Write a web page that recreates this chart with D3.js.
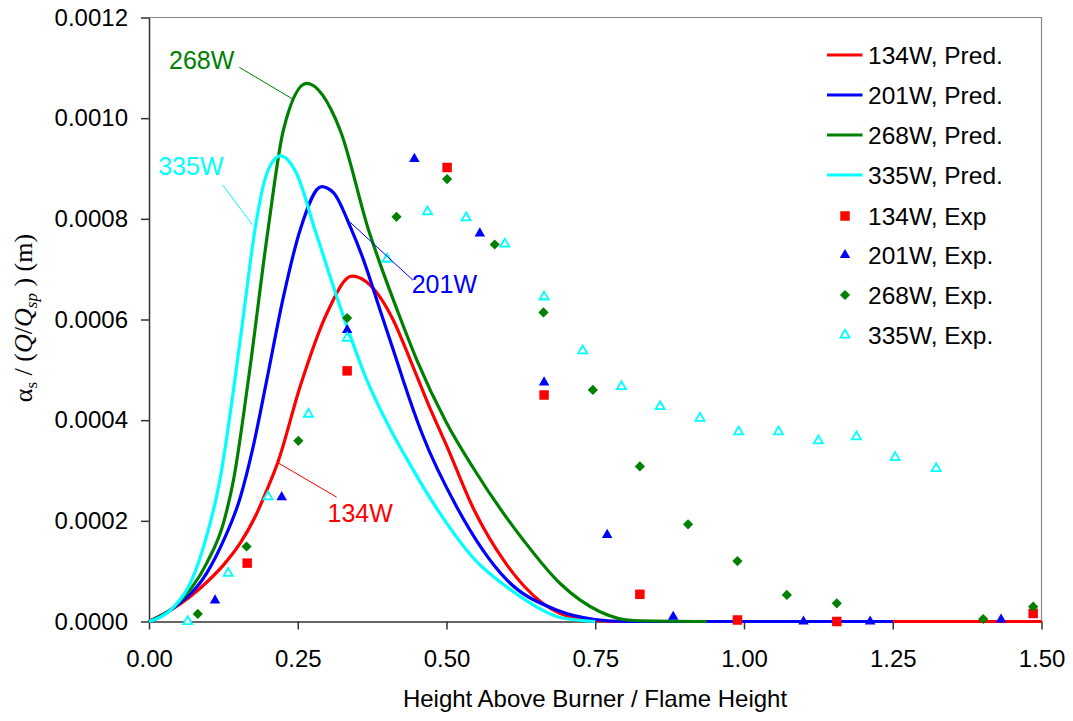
<!DOCTYPE html>
<html>
<head>
  <meta charset="utf-8">
  <script src="https://d3js.org/d3.v7.min.js"></script>
  <style>
    body { margin: 0; background: #fff; }
    svg text { font-family: "Liberation Sans", Arial, sans-serif; }
  </style>
</head>
<body>
<svg id="chart" width="1073" height="721"></svg>
<script>
  // predicted curves (x = height / flame height, y = alpha_s / (Q/Qsp))
  const x134 = [0, 0.041, 0.097, 0.125, 0.153, 0.18, 0.198, 0.217, 0.254, 0.30, 0.341, 0.365, 0.388, 0.41, 0.439, 0.47, 0.50, 0.545, 0.60, 0.629, 0.691, 0.75, 0.80, 1.0, 1.25, 1.5];
  const y134 = [0, 0.000026, 0.000078, 0.000112, 0.000155, 0.000212, 0.000261, 0.000318, 0.000467, 0.000615, 0.000686, 0.000675, 0.000645, 0.0006, 0.00052, 0.00043, 0.00035, 0.000225, 0.000115, 0.000072, 0.000016, 0.000002, 0, 0, 0, 0];

  const x201 = [0, 0.041, 0.097, 0.125, 0.153, 0.175, 0.198, 0.225, 0.254, 0.290, 0.31, 0.338, 0.36, 0.388, 0.416, 0.427, 0.46, 0.517, 0.601, 0.685, 0.75, 0.80, 1.0, 1.25];
  const y201 = [0, 0.000027, 0.000096, 0.00016, 0.000245, 0.000347, 0.00048, 0.00064, 0.000778, 0.000864, 0.000852, 0.000785, 0.00072, 0.00062, 0.00052, 0.00048, 0.00037, 0.000228, 0.000083, 0.000023, 0.000004, 0, 0, 0];

  const x268 = [0, 0.041, 0.097, 0.125, 0.142, 0.167, 0.20, 0.226, 0.265, 0.321, 0.369, 0.388, 0.42, 0.45, 0.50, 0.545, 0.629, 0.691, 0.758, 0.814, 0.9375];
  const y268 = [0, 0.000028, 0.000116, 0.000195, 0.000281, 0.00048, 0.000778, 0.000977, 0.001069, 0.000977, 0.000778, 0.000712, 0.00061, 0.00052, 0.000395, 0.000305, 0.000162, 0.0000755, 0.0000195, 0.000002, 0];

  const x335 = [0, 0.041, 0.069, 0.097, 0.119, 0.142, 0.16, 0.178, 0.198, 0.221, 0.248, 0.279, 0.333, 0.366, 0.40, 0.43, 0.489, 0.55, 0.601, 0.65, 0.691, 0.75];
  const y335 = [0, 0.000028, 0.000075, 0.00017, 0.00028, 0.00046, 0.00062, 0.000778, 0.00089, 0.000925, 0.00089, 0.000778, 0.000585, 0.00048, 0.000395, 0.00033, 0.000215, 0.00012, 0.000069, 0.00003, 0.000008, 0];

  // experimental points
  const ex134 = [0.165, 0.333, 0.501, 0.664, 0.825, 0.989, 1.156, 1.486];
  const ey134 = [0.000116, 0.000498, 0.000902, 0.00045, 0.000054, 0.000003, 0, 0.000016];

  const ex201 = [0.111, 0.223, 0.333, 0.446, 0.556, 0.664, 0.770, 0.881, 1.10, 1.212, 1.432];
  const ey201 = [0.000042, 0.000247, 0.000579, 0.000919, 0.000771, 0.000475, 0.000172, 0.0000095, 0, 0, 0.000004];

  const ex268 = [0.082, 0.164, 0.251, 0.333, 0.416, 0.501, 0.581, 0.663, 0.746, 0.825, 0.906, 0.989, 1.072, 1.156, 1.402, 1.486];
  const ey268 = [0.000015, 0.000149, 0.000359, 0.000603, 0.000804, 0.000879, 0.000749, 0.000614, 0.00046, 0.000308, 0.000193, 0.00012, 0.0000527, 0.0000362, 0.000005, 0.0000295];

  const ex335 = [0.065, 0.133, 0.200, 0.268, 0.333, 0.400, 0.468, 0.533, 0.598, 0.664, 0.729, 0.794, 0.859, 0.926, 0.991, 1.058, 1.125, 1.189, 1.254, 1.323];
  const ey335 = [0, 0.0000958, 0.000248, 0.000412, 0.000563, 0.00072, 0.000814, 0.000802, 0.00075, 0.000645, 0.000538, 0.000467, 0.000427, 0.000404, 0.000377, 0.000377, 0.000359, 0.000367, 0.000326, 0.000304];

  const xTicks = [0, 0.25, 0.5, 0.75, 1.0, 1.25, 1.5];
  const yTicks = [0, 0.0002, 0.0004, 0.0006, 0.0008, 0.0010, 0.0012];

  const svg = d3.select("#chart");
  const x = d3.scaleLinear().domain([0, 1.5]).range([149, 1041.5]);
  const y = d3.scaleLinear().domain([0, 0.0012]).range([621.5, 17.5]);

  // frame (top + right in grey)
  svg.append("path")
    .attr("d", `M${x(0)},${y(0.0012)}H${x(1.5)}V${y(0)}`)
    .attr("fill", "none").attr("stroke", "#888").attr("stroke-width", 1.2);

  // axes
  const yAxis = svg.append("g").attr("transform", `translate(${x(0)},0)`)
    .call(d3.axisLeft(y).tickValues(yTicks).tickFormat(d3.format(".4f")).tickSize(8).tickSizeOuter(0).tickPadding(13));
  const xAxis = svg.append("g").attr("transform", `translate(0,${y(0)})`)
    .call(d3.axisBottom(x).tickValues(xTicks).tickFormat(d3.format(".2f")).tickSize(8).tickSizeOuter(0).tickPadding(20));
  [xAxis, yAxis].forEach(a => {
    a.selectAll("path, line").attr("stroke", "#333").attr("stroke-width", 1.5);
    a.selectAll("text").attr("fill", "#000").style("font-size", "24px")
      .style("font-family", '"Liberation Sans", Arial, sans-serif');
  });

  // lines
  const series = [
    { name: "134W, Pred.", xs: x134, ys: y134, color: "#ff0000" },
    { name: "201W, Pred.", xs: x201, ys: y201, color: "#0000ff" },
    { name: "268W, Pred.", xs: x268, ys: y268, color: "#008000" },
    { name: "335W, Pred.", xs: x335, ys: y335, color: "#00ffff" }
  ];
  const line = d3.line().x(d => x(d[0])).y(d => y(d[1])).curve(d3.curveMonotoneX);
  series.forEach(s => {
    svg.append("path")
      .datum(d3.zip(s.xs, s.ys))
      .attr("d", line)
      .attr("fill", "none")
      .attr("stroke", s.color)
      .attr("stroke-width", 3.2);
  });

  // markers
  const sq = d3.symbol().type(d3.symbolSquare).size(90)();
  const tri = d3.symbol().type(d3.symbolTriangle).size(48)();
  const dia = d3.symbol().type(d3.symbolSquare).size(52)();
  const otri = d3.symbol().type(d3.symbolTriangle).size(36)();
  const exps = [
    { name: "134W, Exp", xs: ex134, ys: ey134, path: sq, fill: "#ff0000", stroke: "none", rot: 0 },
    { name: "201W, Exp.", xs: ex201, ys: ey201, path: tri, fill: "#0000ff", stroke: "none", rot: 0 },
    { name: "268W, Exp.", xs: ex268, ys: ey268, path: dia, fill: "#008000", stroke: "none", rot: 45 },
    { name: "335W, Exp.", xs: ex335, ys: ey335, path: otri, fill: "#fff", stroke: "#00ffff", rot: 0 }
  ];
  exps.forEach(e => {
    svg.append("g").selectAll("path")
      .data(d3.zip(e.xs, e.ys))
      .join("path")
      .attr("d", e.path)
      .attr("transform", d => `translate(${x(d[0])},${y(d[1])}) rotate(${e.rot})`)
      .attr("fill", e.fill)
      .attr("stroke", e.stroke)
      .attr("stroke-width", 1.8);
  });

  // curve labels with leader lines (data coords)
  const notes = [
    { text: "268W", color: "#008000", tx: 0.0336, ty: 0.001097, l: [[0.1518, 0.001101], [0.2415, 0.001038]] },
    { text: "335W", color: "#00ffff", tx: 0.0155, ty: 0.000887, l: [[0.1238, 0.000867], [0.1740, 0.000788]] },
    { text: "201W", color: "#0000ff", tx: 0.4415, ty: 0.000653, l: [[0.3383, 0.000793], [0.4437, 0.000678]] },
    { text: "134W", color: "#ff0000", tx: 0.3000, ty: 0.000198, l: [[0.2173, 0.000315], [0.3154, 0.000247]] }
  ];
  notes.forEach(n => {
    svg.append("line")
      .attr("x1", x(n.l[0][0])).attr("y1", y(n.l[0][1]))
      .attr("x2", x(n.l[1][0])).attr("y2", y(n.l[1][1]))
      .attr("stroke", n.color).attr("stroke-width", 1);
    svg.append("text")
      .attr("x", x(n.tx)).attr("y", y(n.ty))
      .attr("fill", n.color)
      .style("font-size", "25px")
      .text(n.text);
  });

  // legend
  const leg = svg.append("g").attr("transform", "translate(827,55)");
  series.forEach((s, i) => {
    leg.append("line").attr("x1", 0).attr("x2", 35.5).attr("y1", i * 40).attr("y2", i * 40)
      .attr("stroke", s.color).attr("stroke-width", 3);
    leg.append("text").attr("x", 41).attr("y", i * 40).attr("dy", "0.36em")
      .style("font-size", "24.5px").text(s.name);
  });
  exps.forEach((e, j) => {
    const i = j + 4;
    const yy = i * 40 + (j === 0 ? 1 : 0);
    leg.append("path").attr("d", e.path)
      .attr("transform", `translate(18,${yy}) rotate(${e.rot})`)
      .attr("fill", e.fill).attr("stroke", e.stroke).attr("stroke-width", 1.8);
    leg.append("text").attr("x", 41).attr("y", yy).attr("dy", "0.36em")
      .style("font-size", "24.5px").text(e.name);
  });

  // axis titles
  svg.append("text")
    .attr("x", 595).attr("y", 707)
    .attr("text-anchor", "middle")
    .style("font-size", "24px")
    .text("Height Above Burner / Flame Height");

  const yt = svg.append("text")
    .attr("transform", "translate(32,318) rotate(-90)")
    .attr("text-anchor", "middle")
    .style("font-family", '"Liberation Serif", "Times New Roman", serif')
    .style("font-size", "26px");
  yt.append("tspan").text("α");
  yt.append("tspan").attr("dy", 5).style("font-size", "17px").text("s");
  yt.append("tspan").attr("dy", -5).text(" / (");
  yt.append("tspan").style("font-style", "italic").text("Q");
  yt.append("tspan").text("/");
  yt.append("tspan").style("font-style", "italic").text("Q");
  yt.append("tspan").attr("dy", 5).style("font-size", "17px").style("font-style", "italic").text("sp");
  yt.append("tspan").attr("dy", -5).text(" ) (m)");
</script>
</body>
</html>
